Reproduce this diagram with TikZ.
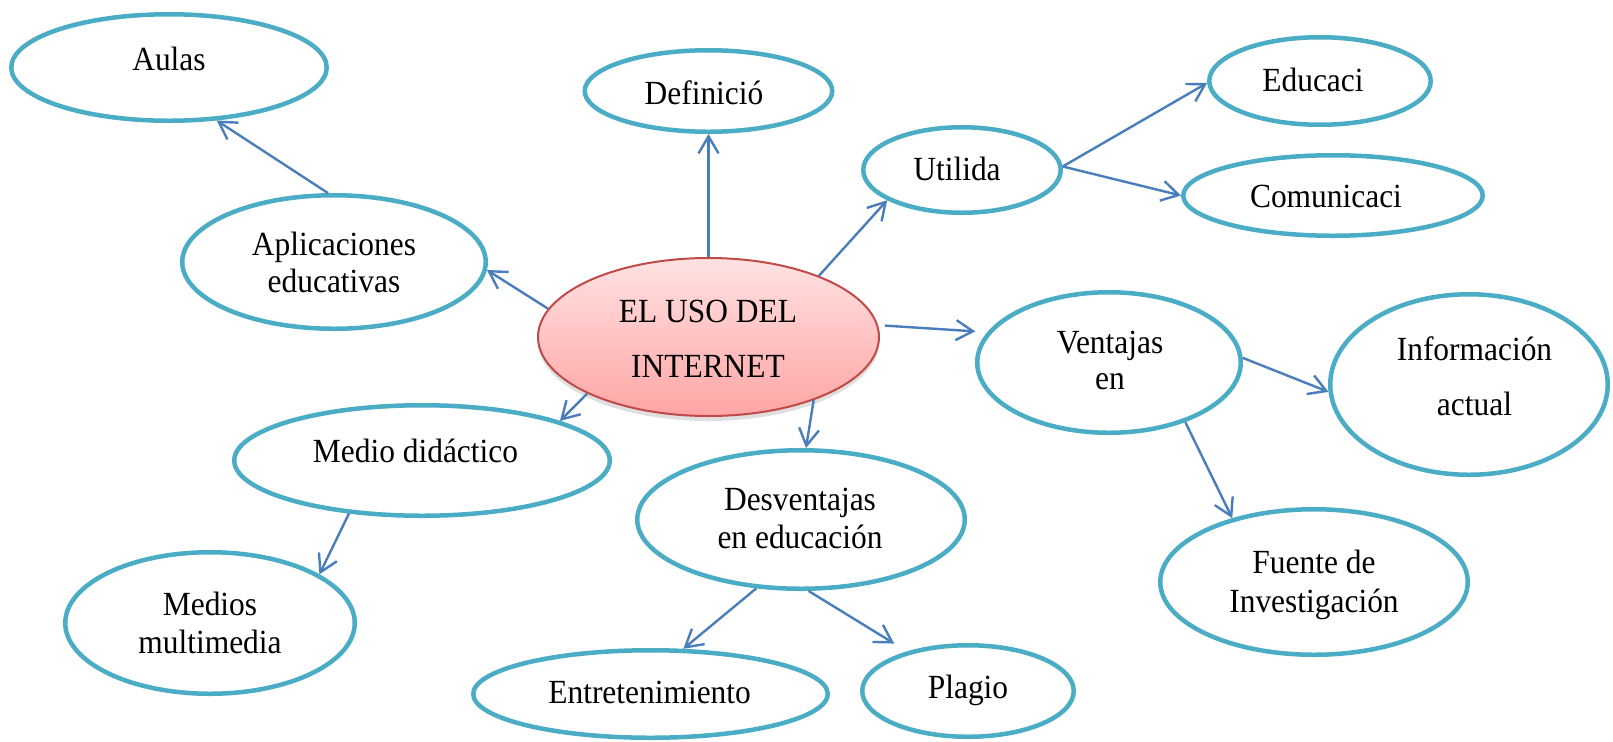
\documentclass[tikz,border=0pt]{standalone}
\usepackage{fontspec}
\setmainfont{Liberation Serif}[FakeStretch=0.93]
\usetikzlibrary{arrows.meta,shadows,shapes.geometric}
\definecolor{bubble}{RGB}{75,172,198}
\definecolor{arrowc}{RGB}{74,126,187}
\definecolor{coreline}{RGB}{190,75,72}
\definecolor{coretop}{RGB}{255,226,226}
\definecolor{corebot}{RGB}{255,165,165}
\newcommand\twolines[3]{\vtop{\baselineskip=#3\relax\halign{\hfil##\hfil\cr#1\cr#2\cr}}}
\begin{document}
\begin{tikzpicture}[x=0.5pt,y=-0.5pt,
  font=\fontsize{16.9}{18}\selectfont,
  bub/.style n args={2}{ellipse, draw=bubble, line width=2.25pt, fill=white,
    inner sep=0pt, minimum width={(#1-2.25)*1pt}, minimum height={(#2-2.25)*1pt}},
  core/.style={ellipse, draw=coreline, line width=1pt, top color=coretop, bottom color=corebot,
    inner sep=0pt, minimum width=170.5pt, minimum height=79pt,
    drop shadow={opacity=0.25, shadow xshift=0pt, shadow yshift=-2.5pt}},
  lbl/.style={anchor=base, inner sep=0pt},
  arr/.style={draw=arrowc, line width=1.2pt, -{Straight Barb[length=8.5pt,width=10pt]}}]
\useasboundingbox[fill=white] (0,0) rectangle (1613,741);
% bubbles
\node[bub={160}{55.5}] (aulas) at (169,67.5) {};
\node[bub={154}{69}] (apl) at (334,262) {};
\node[bub={126}{43}] (def) at (708.5,91) {};
\node[bub={101}{45}] (uti) at (962,170) {};
\node[bub={113}{46}] (edu) at (1320,81) {};
\node[bub={152}{42.5}] (com) at (1333,195.5) {};
\node[bub={134}{72.5}] (ven) at (1109,362.5) {};
\node[bub={141}{92.5}] (inf) at (1469,384.5) {};
\node[bub={156}{75}] (fue) at (1314,582) {};
\node[bub={190}{57.5}] (med) at (422,460.5) {};
\node[bub={147}{73}] (mm) at (210,623) {};
\node[bub={166}{71.5}] (des) at (801,519.5) {};
\node[bub={179.5}{46}] (ent) at (650.5,694) {};
\node[bub={108}{48}] (pla) at (968,691) {};
\node[core] (uso) at (708.5,337) {};
% labels
\node[lbl] (t-aulas) at (169,70.7) {Aulas};
\node[lbl] (t-apl) at (334,255) {\twolines{Aplicaciones}{educativas}{18.5pt}};
\node[lbl] (t-def) at (704,104) {Definició};
\node[lbl] (t-uso) at (708,322) {\twolines{EL USO DEL}{INTERNET}{27.5pt}};
\node[lbl] (t-uti) at (957,180) {Utilida};
\node[lbl] (t-edu) at (1313,91) {Educaci};
\node[lbl] (t-com) at (1326,207) {Comunicaci};
\node[lbl] (t-ven) at (1110,353) {\twolines{Ventajas}{en}{18pt}};
\node[lbl] (t-inf) at (1474.5,360) {\twolines{Información}{actual}{27.5pt}};
\node[lbl] (t-med) at (415.5,462) {Medio didáctico};
\node[lbl] (t-des) at (800,510) {\twolines{Desventajas}{en educación}{19pt}};
\node[lbl] (t-fue) at (1314,573) {\twolines{Fuente de}{Investigación}{19.5pt}};
\node[lbl] (t-mm) at (210,615) {\twolines{Medios}{multimedia}{19pt}};
\node[lbl] (t-ent) at (649.6,703) {Entretenimiento};
\node[lbl] (t-pla) at (968,698) {Plagio};
% connectors
\draw[arr] (apl.95) -- (aulas.-48.6);
\draw[arr] (uso.170.3) -- (apl.-3.7);
\draw[arr] (uso.90) -- (def.-90);
\draw[arr] (uso.29.5) -- (uti.202.7);
\draw[arr] (uti.2.8) -- (edu.181);
\draw[arr] (uti.2.8) -- (com.180);
\draw[arr, shorten <=3.5pt, shorten >=6pt] (uso.4.2) -- (ven.166.4);
\draw[arr] (ven.2.5) -- (inf.183);
\draw[arr] (ven.-38) -- (fue.142.2);
\draw[arr] (uso.205.9) -- (med.16.7);
\draw[arr] (med.216) -- (mm.24.2);
\draw[arr] (uso.-31.1) -- (des.86.2);
\draw[arr] (des.237.5) -- (ent.54.3);
\draw[arr, shorten >=7.5pt] (des.-84.8) -- (pla.147.4);
\end{tikzpicture}
\end{document}
